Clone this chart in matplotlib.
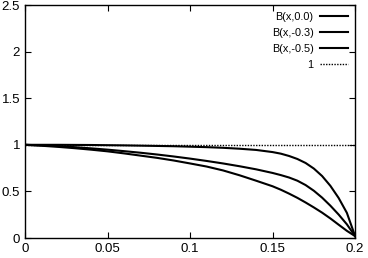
import matplotlib
matplotlib.use("Agg")
import matplotlib.pyplot as plt

plt.rcParams['font.family'] = ['Liberation Sans', 'DejaVu Sans']

# data
x = [0.0, 0.01, 0.02, 0.03, 0.04, 0.05, 0.06, 0.07, 0.08, 0.09, 0.1,
     0.11, 0.12, 0.13, 0.14, 0.15, 0.155, 0.16, 0.165, 0.17, 0.175,
     0.18, 0.185, 0.19, 0.195, 0.2]
b_00 = [1.0, 1.0, 1.0, 0.999, 0.998, 0.996, 0.994, 0.991, 0.988, 0.985,
        0.98, 0.975, 0.968, 0.958, 0.945, 0.922, 0.905, 0.88, 0.848,
        0.805, 0.745, 0.665, 0.56, 0.43, 0.27, 0.02]
b_03 = [1.0, 0.994, 0.986, 0.975, 0.962, 0.948, 0.932, 0.915, 0.896,
        0.875, 0.852, 0.827, 0.80, 0.77, 0.737, 0.698, 0.675, 0.649, 0.615,
        0.568, 0.507, 0.433, 0.347, 0.252, 0.147, 0.02]
b_05 = [1.0, 0.99, 0.978, 0.964, 0.948, 0.93, 0.908, 0.884, 0.86, 0.832,
        0.80, 0.767, 0.725, 0.673, 0.615, 0.555, 0.518, 0.476, 0.431, 0.381,
        0.328, 0.272, 0.21, 0.143, 0.077, 0.02]
one_x = [0.0, 0.2]
one_y = [1.0, 1.0]

labels = ['B(x,0.0)', 'B(x,-0.3)', 'B(x,-0.5)', '1']
xticks = [0, 0.05, 0.1, 0.15, 0.2]
xticklabels = ['0', '0.05', '0.1', '0.15', '0.2']
yticks = [0, 0.5, 1, 1.5, 2, 2.5]
yticklabels = ['0', '0.5', '1', '1.5', '2', '2.5']

fig = plt.figure(figsize=(3.68, 2.58), dpi=100)
ax = fig.add_axes([0.068, 0.0775, 0.897, 0.903])

ax.plot(x, b_00, color='black', lw=1.5, label=labels[0])
ax.plot(x, b_03, color='black', lw=1.5, label=labels[1])
ax.plot(x, b_05, color='black', lw=1.5, label=labels[2])
ax.plot(one_x, one_y, color='black', lw=1.0, ls=(0, (1, 1)), label=labels[3])

ax.set_xlim(0, 0.2)
ax.set_ylim(0, 2.5)
ax.set_xticks(xticks)
ax.set_xticklabels(xticklabels)
ax.set_yticks(yticks)
ax.set_yticklabels(yticklabels)
ax.tick_params(direction='in', length=4, width=0.8, top=True, right=True,
               labelsize=9.5, pad=3.5)
for s in ax.spines.values():
    s.set_linewidth(1.0)

ax.legend(loc='upper right', frameon=False, markerfirst=False, fontsize=7.8,
          handlelength=2.6, handletextpad=0.6, labelspacing=0.55,
          borderaxespad=0.25)

fig.savefig('out.png', dpi=100)
